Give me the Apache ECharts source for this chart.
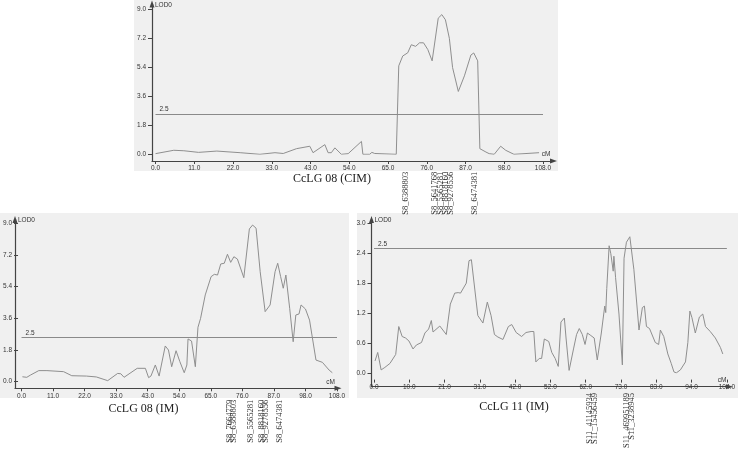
<!DOCTYPE html>
<html><head><meta charset="utf-8">
<script src="https://cdn.jsdelivr.net/npm/echarts@6/dist/echarts.min.js"></script>
<style>html,body{margin:0;padding:0;background:#fff}#c{width:738px;height:451px}</style>
</head><body><div id="c"></div>
<script>
// ---------- DATA ----------
const threshold = 2.5;

// Panel 1: CcLG 08 (CIM)
const cimX = [0, 5.1, 7.9, 12, 17.1, 23.6, 29.1, 33.3, 35.6, 39.3, 43.0, 43.9, 47.2, 48.1, 49.0, 50.0, 51.8, 53.7, 57.4, 57.8, 59.7, 60.3, 61.1, 67.1, 67.8, 68.9, 70.3, 71.3, 72.5, 73.6, 74.7, 75.9, 77.1, 78.8, 79.8, 80.8, 81.9, 82.8, 84.4, 86.1, 87.9, 88.7, 89.8, 90.4, 92.1, 93.0, 93.5, 94.4, 96.2, 97.6, 99.9, 106.9];
const cimY = [0.04, 0.25, 0.22, 0.12, 0.2, 0.1, 0.0, 0.1, 0.05, 0.35, 0.5, 0.1, 0.6, 0.1, 0.1, 0.4, 0.0, 0.04, 0.8, 0.0, 0.0, 0.12, 0.05, 0.0, 5.49, 6.1, 6.3, 6.8, 6.7, 6.92, 6.92, 6.5, 5.8, 8.45, 8.67, 8.35, 7.2, 5.38, 3.9, 4.87, 6.16, 6.29, 5.8, 0.35, 0.14, 0.04, 0.12, 0.0, 0.5, 0.25, 0.0, 0.1];
const cimMarkerNames = ['S8_6388803', 'S8_5641768', 'S8_5565281', 'S8_8818160', 'S8_9278556', 'S8_6474381'];
const cimMarkerPos = [69.8, 77.9, 79.4, 80.9, 82.3, 89.0];

// Panel 2: CcLG 08 (IM)
const lg8X = [0.3, 1.8, 3.1, 5.9, 8.7, 14.4, 17.2, 22.2, 25.6, 29.5, 32.9, 34.0, 35.1, 39.6, 42.4, 43.5, 44.3, 45.8, 47.1, 49.2, 50.3, 51.4, 52.9, 54.2, 55.7, 56.6, 57.0, 58.2, 59.5, 60.4, 61.3, 62.9, 64.9, 66.0, 67.1, 68.2, 69.4, 70.5, 71.6, 72.7, 73.9, 76.1, 78.0, 79.1, 80.3, 81.7, 83.4, 85.1, 86.8, 87.7, 88.7, 89.6, 90.5, 91.8, 93.0, 93.9, 95.0, 95.7, 97.2, 98.6, 100.8, 103.0, 105.3, 106.4];
const lg8Y = [0.28, 0.25, 0.38, 0.63, 0.63, 0.57, 0.34, 0.32, 0.27, 0.06, 0.47, 0.45, 0.25, 0.76, 0.76, 0.23, 0.32, 0.95, 0.32, 2.03, 1.8, 0.85, 1.76, 1.14, 0.51, 0.95, 2.43, 2.31, 0.85, 3.09, 3.6, 4.93, 5.97, 6.1, 6.06, 6.69, 6.73, 7.24, 6.78, 7.1, 6.97, 5.91, 8.68, 8.9, 8.72, 6.25, 3.98, 4.36, 6.25, 6.73, 5.97, 5.31, 6.06, 4.17, 2.27, 3.79, 3.85, 4.36, 4.13, 3.5, 1.23, 1.1, 0.66, 0.51];
const lg8MarkerNames = ['S8_7664779', 'S8_6388803', 'S8_5565281', 'S8_8818160', 'S8_9278556', 'S8_6474381'];
const lg8MarkerPos = [71.3, 72.8, 78.6, 82.2, 83.5, 88.5];

// Panel 3: CcLG 11 (IM)
const lg11X = [0.3, 1.1, 2.1, 3.2, 4.7, 6.4, 7.3, 8.3, 9.3, 10.3, 11.5, 12.5, 14.0, 15.0, 16.1, 16.9, 17.4, 19.4, 21.3, 22.5, 23.8, 24.8, 25.5, 27.2, 28.0, 28.7, 30.6, 32.1, 33.4, 34.5, 35.5, 36.5, 38.0, 38.5, 39.6, 40.6, 41.9, 43.5, 44.8, 46.3, 47.1, 47.7, 48.7, 49.4, 50.2, 51.5, 52.4, 53.4, 54.3, 55.1, 56.1, 56.6, 57.5, 58.0, 58.8, 59.7, 60.5, 61.4, 62.2, 62.9, 63.9, 64.9, 65.8, 67.0, 68.0, 68.3, 68.6, 69.3, 69.8, 70.5, 70.7, 71.2, 72.2, 73.2, 73.7, 74.4, 75.4, 76.6, 78.1, 79.1, 79.7, 80.3, 81.2, 82.9, 83.9, 84.4, 85.4, 86.6, 87.6, 88.4, 89.1, 90.3, 91.8, 92.5, 93.1, 93.7, 94.7, 95.9, 96.9, 97.7, 99.1, 100.6, 102.1, 102.8];
const lg11Y = [0.24, 0.41, 0.06, 0.11, 0.19, 0.37, 0.93, 0.73, 0.7, 0.64, 0.48, 0.56, 0.61, 0.8, 0.88, 1.05, 0.82, 0.94, 0.77, 1.38, 1.6, 1.61, 1.6, 1.8, 2.25, 2.27, 1.15, 1.0, 1.42, 1.15, 0.77, 0.72, 0.67, 0.67, 0.93, 0.97, 0.81, 0.73, 0.81, 0.83, 0.83, 0.22, 0.29, 0.29, 0.68, 0.63, 0.41, 0.29, 0.13, 1.02, 1.1, 0.7, 0.05, 0.06, 0.48, 0.77, 0.89, 0.77, 0.57, 0.8, 0.75, 0.7, 0.26, 0.8, 1.34, 1.21, 1.69, 2.55, 2.39, 2.04, 2.34, 1.91, 1.18, 0.16, 2.3, 2.62, 2.73, 2.07, 0.86, 1.31, 1.34, 0.93, 0.89, 0.61, 0.57, 0.86, 0.73, 0.38, 0.19, 0.02, 0.0, 0.06, 0.22, 0.61, 1.24, 1.11, 0.8, 1.12, 1.18, 0.93, 0.83, 0.7, 0.51, 0.38];
const lg11MarkerNames = ['S11_41145934', 'S11_15456459', 'S11_469951189', 'S11_3238945'];
const lg11MarkerPos = [63.6, 65.0, 74.5, 76.1];

// Tick labels
const lg8TickLabels = ['0.0', '11.0', '22.0', '33.0', '43.0', '54.0', '65.0', '76.0', '87.0', '98.0', '108.0'];
const lg11TickLabels = ['0.0', '10.0', '21.0', '31.0', '42.0', '52.0', '62.0', '73.0', '83.0', '94.0', '104.0'];

const titles = ['CcLG 08 (CIM)', 'CcLG 08 (IM)', 'CcLG 11 (IM)'];

// ---------- LAYOUT (pixels) ----------
const panels = [
  {xs: cimX, ys: cimY, mNames: cimMarkerNames, mPos: cimMarkerPos, ticks: lg8TickLabels, xMax: 108, yMax: 9, yInt: 1.8,
   bg: [134, 0, 424, 171], axX: 152, axY: 161, arrowTop: 4, arrowRight: 553.5,
   g: {left: 155.5, top: 9.3, width: 387.5, height: 145}, mOff: 17.5, titleX: 332, titleY: 179},
  {xs: lg8X, ys: lg8Y, mNames: lg8MarkerNames, mPos: lg8MarkerPos, ticks: lg8TickLabels, xMax: 108, yMax: 9, yInt: 1.8,
   bg: [0, 213, 349, 185], axX: 15, axY: 388.3, arrowTop: 219.5, arrowRight: 338,
   g: {left: 18.5, top: 223.3, width: 318.5, height: 158.4}, mOff: 18, titleX: 143.5, titleY: 409},
  {xs: lg11X, ys: lg11Y, mNames: lg11MarkerNames, mPos: lg11MarkerPos, ticks: lg11TickLabels, xMax: 104, yMax: 3, yInt: 0.6,
   bg: [357, 213, 381, 185], axX: 371.5, axY: 386.7, arrowTop: 219.5, arrowRight: 729.5,
   g: {left: 374, top: 223.3, width: 355, height: 156.7}, mOff: 20, titleX: 514, titleY: 407}
];

const AX = '#444';
const TXT = '#333';
const SANS = 'Liberation Sans, Arial, sans-serif';
const SERIF = 'Liberation Serif, Times New Roman, serif';

const option = {animation: false, backgroundColor: '#fff', grid: [], xAxis: [], yAxis: [], series: [], graphic: []};

panels.forEach((p, i) => {
  const dataGrid = option.grid.length;
  option.grid.push({left: p.g.left, top: p.g.top, width: p.g.width, height: p.g.height, containLabel: false});
  const frameGrid = option.grid.length;
  option.grid.push({left: p.axX, top: p.arrowTop, width: p.arrowRight - p.axX, height: p.axY - p.arrowTop, containLabel: false});

  const xMain = option.xAxis.length;
  const step = p.xMax / 10;
  option.xAxis.push({
    gridIndex: dataGrid, type: 'value', min: 0, max: p.xMax, interval: step, position: 'bottom',
    offset: p.axY - (p.g.top + p.g.height),
    axisLine: {show: false, onZero: false},
    axisTick: {show: true, length: 3, lineStyle: {color: AX}},
    axisLabel: {fontSize: 6.5, color: TXT, fontFamily: SANS, margin: 4,
      formatter: v => p.ticks[Math.round(v / step)]},
    splitLine: {show: false}
  });
  // one label-only axis per marker so neighbouring names are never dropped
  p.mPos.forEach((pos, k) => {
    const name = p.mNames[k];
    option.xAxis.push({
      gridIndex: dataGrid, type: 'value', min: 0, max: p.xMax, position: 'bottom', offset: p.mOff,
      axisLine: {show: false, onZero: false}, axisTick: {show: false}, splitLine: {show: false},
      axisLabel: {show: true, customValues: [pos], rotate: 90, margin: 0, fontFamily: SERIF, fontSize: 8.5, color: TXT,
        formatter: () => name}
    });
  });
  option.xAxis.push({
    gridIndex: frameGrid, type: 'value', min: 0, max: 1, position: 'bottom',
    axisLine: {show: true, onZero: false, symbol: ['none', 'triangle'], symbolSize: [5, 7], lineStyle: {color: AX, width: 1.2}},
    axisTick: {show: false}, axisLabel: {show: false}, splitLine: {show: false},
    name: 'cM', nameLocation: 'end', nameGap: -3,
    nameTextStyle: {fontSize: 6.5, color: TXT, fontFamily: SANS, align: 'right', verticalAlign: 'bottom', padding: [0, 0, 3, 0]}
  });

  const yMain = option.yAxis.length;
  option.yAxis.push({
    gridIndex: dataGrid, type: 'value', min: 0, max: p.yMax, interval: p.yInt,
    offset: p.g.left - p.axX,
    axisLine: {show: false, onZero: false},
    axisTick: {show: true, length: 4, lineStyle: {color: AX}},
    axisLabel: {fontSize: 6.5, color: TXT, fontFamily: SANS, margin: 6, formatter: v => v.toFixed(1)},
    splitLine: {show: false}
  });
  option.yAxis.push({
    gridIndex: frameGrid, type: 'value', min: 0, max: 1,
    axisLine: {show: true, onZero: false, symbol: ['none', 'triangle'], symbolSize: [5, 7], lineStyle: {color: AX, width: 1.2}},
    axisTick: {show: false}, axisLabel: {show: false}, splitLine: {show: false},
    name: 'LOD0', nameLocation: 'end', nameGap: -1,
    nameTextStyle: {fontSize: 6.5, color: TXT, fontFamily: SANS, align: 'left', verticalAlign: 'middle', padding: [0, 0, 0, 3]}
  });

  option.series.push({
    type: 'line', xAxisIndex: xMain, yAxisIndex: yMain,
    data: p.xs.map((x, k) => [x, p.ys[k]]),
    showSymbol: false, symbol: 'none', silent: true,
    lineStyle: {color: '#8e8e8e', width: 1},
    markLine: {
      silent: true, symbol: 'none', animation: false,
      lineStyle: {color: '#8a8a8a', width: 1, type: 'solid'},
      label: {show: true, position: 'insideStartTop', formatter: String(threshold), fontSize: 6.5, color: TXT, fontFamily: SANS, distance: [4, 1]},
      data: [{yAxis: threshold}]
    }
  });

  option.graphic.push({type: 'rect', z: -10, silent: true,
    shape: {x: p.bg[0], y: p.bg[1], width: p.bg[2], height: p.bg[3]},
    style: {fill: '#f0f0f0'}});
  option.graphic.push({type: 'text', silent: true, x: p.titleX, y: p.titleY,
    style: {text: titles[i], align: 'center', verticalAlign: 'middle', font: '12px ' + SERIF, fill: '#222'}});
});

const chart = echarts.init(document.getElementById('c'), null, {renderer: 'canvas'});
chart.setOption(option);
</script>
</body></html>
